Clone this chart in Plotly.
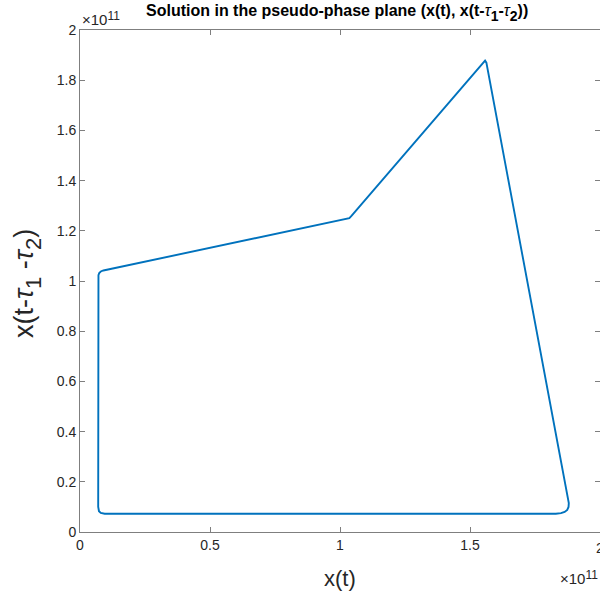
import plotly.graph_objects as go

# Data in units of 1e11
x_vals = [0.070, 0.070, 0.071, 0.074, 0.080, 0.090, 1.025, 1.036, 1.045, 1.558, 1.563,
          1.874, 1.878, 1.880, 1.879, 1.874, 1.864, 1.850, 1.830,
          0.095, 0.080, 0.073, 0.070]
y_vals = [0.100, 1.010, 1.023, 1.032, 1.038, 1.042, 1.246, 1.250, 1.260, 1.878, 1.870,
          0.160, 0.135, 0.115, 0.100, 0.088, 0.080, 0.075, 0.073,
          0.073, 0.076, 0.083, 0.100]

x_ticks = [0, 0.5, 1, 1.5]
x_ticktext = ["0", "0.5", "1", "1.5"]
y_ticks = [0, 0.2, 0.4, 0.6, 0.8, 1, 1.2, 1.4, 1.6, 1.8, 2]
y_ticktext = ["0", "0.2", "0.4", "0.6", "0.8", "1", "1.2", "1.4", "1.6", "1.8", "2"]

FONT = "Liberation Sans, Arial, sans-serif"
TXT = "#262626"
AX = "#7f7f7f"

fig = go.Figure()
fig.add_trace(go.Scatter(x=x_vals, y=y_vals, mode="lines",
                         line=dict(color="#0072BD", width=1.9),
                         showlegend=False, hoverinfo="skip"))

axis_common = dict(showgrid=False, zeroline=False, ticks="inside", ticklen=5, tickwidth=1,
                   tickcolor=AX, showline=True, linecolor=AX, linewidth=1, mirror="ticks",
                   tickfont=dict(family=FONT, size=14, color=TXT))


def sub(s, size):
    return f"<span style='font-size:{size}px;baseline-shift:-35%'>{s}</span>"


def sup(s, size):
    return f"<span style='font-size:{size}px;baseline-shift:45%'>{s}</span>"


exp_txt = "×10" + sup("11", 12)
title_txt = ("<b>Solution in the pseudo-phase plane (x(t), x(t-</b><i>τ</i>" + sub("<b>1</b>", 14)
             + "<b>-</b><i>τ</i>" + sub("<b>2</b>", 14) + "<b>))</b>")
ylab_txt = "x(t-<i>τ</i>" + sub("1", 22) + " -<i>τ</i>" + sub("2", 22) + ")"

fig.update_layout(
    width=600, height=597,
    margin=dict(l=80, r=0, t=30, b=65),
    paper_bgcolor="white", plot_bgcolor="white",
    xaxis=dict(range=[0, 2], tickvals=x_ticks + [2], ticktext=x_ticktext + [""], **axis_common),
    yaxis=dict(range=[0, 2], tickvals=y_ticks, ticktext=y_ticktext, **axis_common),
    annotations=[
        dict(text=title_txt,
             xref="paper", yref="paper", x=0.5, y=1.0, yshift=17, xshift=-3, showarrow=False,
             font=dict(family=FONT, size=16, color="black"), xanchor="center", yanchor="middle"),
        dict(text="x(t)", xref="paper", yref="paper", x=0.5, y=0, yshift=-46, showarrow=False,
             font=dict(family=FONT, size=22, color=TXT), xanchor="center", yanchor="middle"),
        dict(text=ylab_txt,
             xref="paper", yref="paper", x=0, xshift=-53,
             y=0.5, yshift=-3, showarrow=False, textangle=-90,
             font=dict(family=FONT, size=27, color=TXT), xanchor="center", yanchor="middle"),
        dict(text="2", xref="paper", yref="paper", x=1, y=0, yshift=-16, xshift=0,
             showarrow=False, font=dict(family=FONT, size=14, color=TXT), xanchor="center", yanchor="middle"),
        dict(text=exp_txt, xref="paper", yref="paper", x=0, y=1, yshift=12, xshift=0,
             showarrow=False, font=dict(family=FONT, size=15, color=TXT), xanchor="left", yanchor="middle"),
        dict(text=exp_txt, xref="paper", yref="paper", x=1, y=0, yshift=-45, xshift=0,
             showarrow=False, font=dict(family=FONT, size=15, color=TXT), xanchor="right", yanchor="middle"),
    ],
)

fig.write_html("out.html")
